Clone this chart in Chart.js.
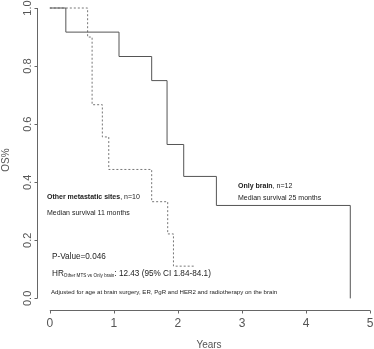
<!DOCTYPE html>
<html>
<head>
<meta charset="utf-8">
<script src="https://cdn.jsdelivr.net/npm/chart.js@4/dist/chart.umd.min.js"></script>
<style>
  html, body { margin: 0; padding: 0; background: #fff; }
  #wrap { width: 374px; height: 349px; }
</style>
</head>
<body>
<div id="wrap"><canvas id="km-graph"></canvas></div>
<script>
// Kaplan-Meier steps (years, survival fraction)
const onlyBrainTimes = [0, 0.25, 1.08, 1.59, 1.83, 2.09, 2.60, 4.69];
const onlyBrainSurv = [1.0, 0.917, 0.833, 0.75, 0.53, 0.42, 0.32, 0.0];
const otherMtsTimes = [0, 0.59, 0.66, 0.82, 0.92, 1.59, 1.84, 1.93, 2.27];
const otherMtsSurv = [1.0, 0.90, 0.667, 0.556, 0.444, 0.333, 0.222, 0.111, 0.111];

const xTicks = [0, 1, 2, 3, 4, 5];
const yTicks = [0.0, 0.2, 0.4, 0.6, 0.8, 1.0];

const toPoints = (xs, ys) => xs.map((x, i) => ({ x: x, y: ys[i] }));

const FONT = '"Liberation Sans", Arial, Helvetica, sans-serif';
const AXIS_COL = '#666';
const TEXT_COL = '#222';

// R-style axes + annotations
const rAxes = {
  id: 'rAxes',
  afterDraw(chart) {
    const ctx = chart.ctx;
    const xs = chart.scales.x;
    const ys = chart.scales.y;
    ctx.save();
    ctx.strokeStyle = AXIS_COL;
    ctx.lineWidth = 1;

    // y axis
    const ax = Math.round(xs.getPixelForValue(-0.2)) + 0.5;
    ctx.beginPath();
    ctx.moveTo(ax, ys.getPixelForValue(1.0));
    ctx.lineTo(ax, ys.getPixelForValue(0.0));
    yTicks.forEach(v => {
      const p = Math.round(ys.getPixelForValue(v)) + 0.5;
      ctx.moveTo(ax, p);
      ctx.lineTo(ax - 3, p);
    });
    ctx.stroke();
    ctx.fillStyle = '#555';
    ctx.font = '11px ' + FONT;
    ctx.textAlign = 'center';
    ctx.textBaseline = 'middle';
    yTicks.forEach(v => {
      ctx.save();
      ctx.translate(ax - 10, ys.getPixelForValue(v));
      ctx.rotate(-Math.PI / 2);
      ctx.fillText(v.toFixed(1), 0, 0);
      ctx.restore();
    });
    ctx.save();
    ctx.translate(6, 160);
    ctx.rotate(-Math.PI / 2);
    ctx.font = '10px ' + FONT;
    ctx.fillText('OS%', 0, 0);
    ctx.restore();

    // x axis
    const ay = Math.round(ys.getPixelForValue(-0.04)) + 0.5;
    ctx.beginPath();
    ctx.moveTo(xs.getPixelForValue(0), ay);
    ctx.lineTo(xs.getPixelForValue(5), ay);
    xTicks.forEach(v => {
      const p = Math.round(xs.getPixelForValue(v)) + 0.5;
      ctx.moveTo(p, ay);
      ctx.lineTo(p, ay + 3);
    });
    ctx.stroke();
    ctx.font = '12px ' + FONT;
    xTicks.forEach(v => {
      ctx.fillText(String(v), xs.getPixelForValue(v), ay + 13);
    });
    ctx.font = '10px ' + FONT;
    ctx.fillText('Years', 209, 345);

    // annotations
    ctx.fillStyle = TEXT_COL;
    ctx.textAlign = 'left';
    const mixed = (parts, x, y) => {
      parts.forEach(p => {
        ctx.font = p[1];
        ctx.fillText(p[0], x, y + (p[2] || 0));
        x += ctx.measureText(p[0]).width;
      });
    };
    mixed([['Other metastatic sites', 'bold 7px ' + FONT], [', n=10', '7px ' + FONT]], 47, 197);
    ctx.font = '7px ' + FONT;
    ctx.fillText('Median survival 11 months', 47, 213);

    mixed([['Only brain', 'bold 7px ' + FONT], [', n=12', '7px ' + FONT]], 238, 186);
    ctx.font = '7px ' + FONT;
    ctx.fillText('Median survival 25 months', 238, 198);

    ctx.font = '8.2px ' + FONT;
    ctx.fillText('P-Value=0.046', 52, 257);
    mixed([['HR', '8.2px ' + FONT], ['Other MTS vs Only brain', '4.6px ' + FONT, 2],
           [': 12.43 (95% CI 1.84-84.1)', '8.2px ' + FONT]], 52, 274);
    ctx.font = '6.1px ' + FONT;
    ctx.fillText('Adjusted for age at brain surgery, ER, PgR and HER2 and radiotherapy on the brain', 51, 292);
    ctx.restore();
  }
};

const kmChart = new Chart(document.querySelector('#km-graph'), {
  type: 'line',
  data: {
    datasets: [{
      label: 'Only brain',
      data: toPoints(onlyBrainTimes, onlyBrainSurv),
      borderColor: '#555',
      borderWidth: 1,
      stepped: true,
      pointRadius: 0,
      fill: false
    }, {
      label: 'Other metastatic sites',
      data: toPoints(otherMtsTimes, otherMtsSurv),
      borderColor: '#777',
      borderWidth: 1,
      borderDash: [2, 2],
      stepped: true,
      pointRadius: 0,
      fill: false
    }]
  },
  options: {
    responsive: true,
    maintainAspectRatio: false,
    animation: false,
    layout: { padding: { left: 37, right: 0, top: 0, bottom: 39 } },
    scales: {
      x: { type: 'linear', min: -0.2, max: 5.06, display: false },
      y: { type: 'linear', min: -0.04, max: 1.0276, display: false }
    },
    plugins: {
      legend: { display: false },
      tooltip: { enabled: false }
    }
  },
  plugins: [rAxes]
});
</script>
</body>
</html>
